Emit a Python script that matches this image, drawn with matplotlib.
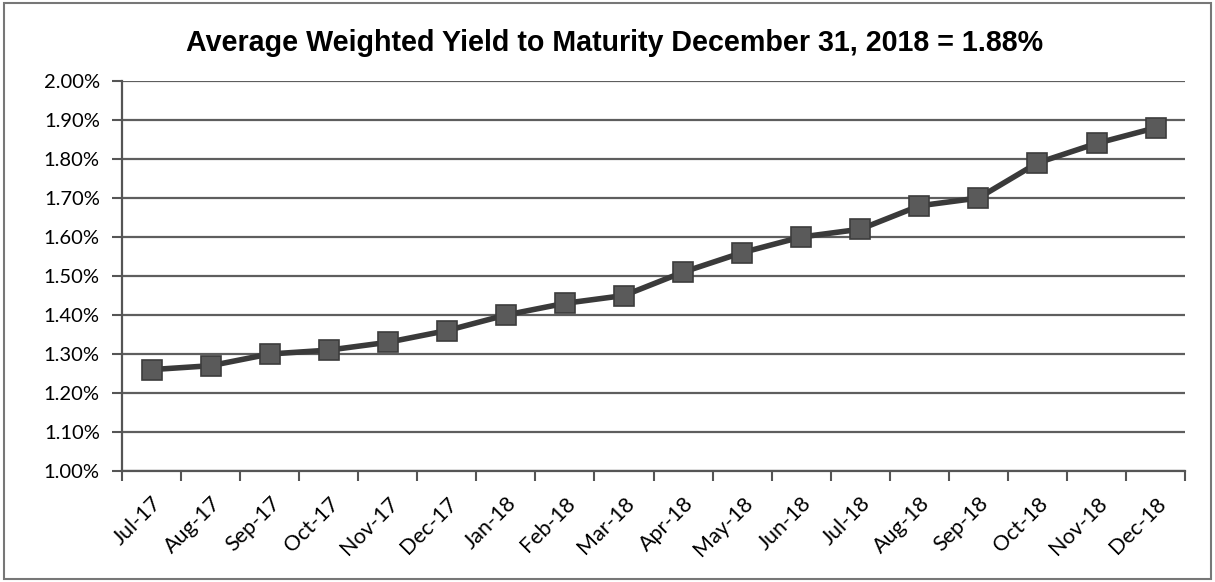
import matplotlib
matplotlib.use("Agg")
import matplotlib.pyplot as plt
from matplotlib.patches import Rectangle
from matplotlib.ticker import FuncFormatter, MultipleLocator, FixedLocator, NullFormatter

months = ["Jul-17", "Aug-17", "Sep-17", "Oct-17", "Nov-17", "Dec-17", "Jan-18", "Feb-18",
          "Mar-18", "Apr-18", "May-18", "Jun-18", "Jul-18", "Aug-18", "Sep-18", "Oct-18",
          "Nov-18", "Dec-18"]
yields = [1.26, 1.27, 1.30, 1.31, 1.33, 1.36, 1.40, 1.43, 1.45, 1.51, 1.56, 1.60,
          1.62, 1.68, 1.70, 1.79, 1.84, 1.88]
title = "Average Weighted Yield to Maturity December 31, 2018 = 1.88%"

fig = plt.figure(figsize=(12.15, 5.82), dpi=100)
ax = fig.add_axes([0.1004, 0.1907, 0.8750, 0.6701])

x = list(range(len(months)))
ax.plot(x, yields, color="#3a3a3a", linewidth=4, marker="s", markersize=14.5,
        markerfacecolor="#5a5a5a", markeredgecolor="#3c3c3c", markeredgewidth=1.2, zorder=3)

ax.set_xlim(-0.5, len(months) - 0.5)
ax.set_ylim(1.0, 2.0)
ax.yaxis.set_major_locator(MultipleLocator(0.1))
ax.yaxis.set_major_formatter(FuncFormatter(lambda v, p: f"{v:.2f}%"))
ax.grid(axis="y", color="#5e5e5e", linewidth=1.6)
ax.set_axisbelow(True)

ax.set_xticks(x)
ax.set_xticklabels(months, rotation=45, ha="right", rotation_mode="anchor",
                   fontsize=15.5, family="Lato")
ax.tick_params(axis="x", which="major", length=0, pad=16)
ax.xaxis.set_minor_locator(FixedLocator([i - 0.5 for i in range(len(months) + 1)]))
ax.xaxis.set_minor_formatter(NullFormatter())
ax.tick_params(axis="x", which="minor", length=7, width=1.5, color="#555555")
ax.tick_params(axis="y", length=7, width=1.5, color="#555555", labelsize=14.5, pad=9)
for lab in ax.get_yticklabels():
    lab.set_family("Lato")

for s in ["top", "right"]:
    ax.spines[s].set_visible(False)
for s in ["left", "bottom"]:
    ax.spines[s].set_color("#555555")
    ax.spines[s].set_linewidth(1.6)

fig.text(0.506, 0.926, title, ha="center", va="center", fontsize=20.6,
         fontweight="bold", family="Liberation Sans")

fig.patches.append(Rectangle((0.003, 0.005), 0.994, 0.99, transform=fig.transFigure,
                             fill=False, edgecolor="#777777", linewidth=1.5))

fig.savefig("out.png", dpi=100, facecolor="white")
